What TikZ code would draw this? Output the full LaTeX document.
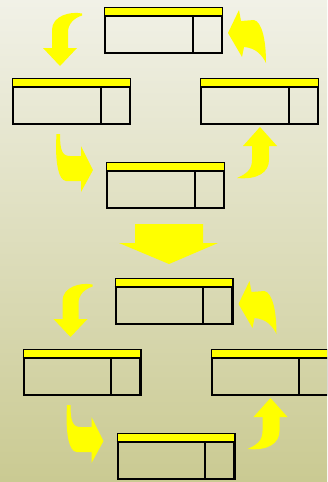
\documentclass[tikz,border=0pt]{standalone}
\usetikzlibrary{calc}
\definecolor{bgtop}{RGB}{241,241,231}
\definecolor{bgbot}{RGB}{202,202,146}
\definecolor{arryel}{RGB}{255,255,0}
\tikzset{
  rec/.style={draw=black, line width=2.4pt, inner sep=0pt, minimum width=116.6pt, minimum height=44.6pt},
  hdr/.style={fill=arryel},
  ln/.style={draw=black, line width=2.2pt},
  arr/.style={fill=arryel, draw=none}
}
\newcommand\mybox[2]{%
  \node[rec] (#1) at (#2) {};
  \fill[hdr] ([shift={(1.2,1.2)}]#1.north west) rectangle ([shift={(-1.2,8.2)}]#1.north east);
  \draw[ln] ([shift={(0,9.3)}]#1.north west) -- ([shift={(0,9.3)}]#1.north east);
  \draw[ln] ([shift={(88.8,9.3)}]#1.north west) -- ([shift={(88.8,-2.5)}]#1.south west);
}
\begin{document}
\begin{tikzpicture}[x=1pt,y=-1pt]
\useasboundingbox (0,0) rectangle (327,482);
\shade[top color=bgtop, bottom color=bgbot] (0,0) rectangle (327,482);
\begin{scope}
\clip (0,0) rectangle (327,482);
\foreach \g/\dx/\dy in {1/0/0, 2/10.5/271} {
  \begin{scope}[shift={(\dx,\dy)}]
    \mybox{t\g}{163.5,30.5}
    \mybox{l\g}{71.5,101.5}
    \mybox{r\g}{259.5,101.5}
    \mybox{m\g}{165.5,185.5}
    % top-left curved arrow (down)
    \fill[arr] (82,13.5) .. controls (70,11) and (52,16) .. (52,30) -- (52,48) -- (43,48) -- (60,66) -- (77,48) -- (68,48) -- (68,32) .. controls (68,24) and (74,18) .. (82,15.5) -- cycle;
    % top-right curved arrow (left)
    \fill[arr] (228,33) -- (239,10) -- (241,21) -- (254,20) .. controls (262,22) and (266,40) .. (266,63) .. controls (262,55) and (256,48) .. (244,47) -- (242,57) -- cycle;
    % bottom-left curved arrow (right)
    \fill[arr] (56.5,134) -- (60,134) .. controls (60,150) and (62,156) .. (70,156) -- (81,156) -- (81,146) -- (93,170) -- (81,192) -- (81,181) -- (66,181) .. controls (58,180) and (56,162) .. (56,145) -- cycle;
    % bottom-right curved arrow (up)
    \fill[arr] (260,127) -- (277,146) -- (269,146) -- (269,160) .. controls (269,172) and (258,180) .. (237,178) .. controls (246,174) and (252,170) .. (252,160) -- (252,146) -- (243,146) -- cycle;
  \end{scope}
}
% big down arrow between groups
\fill[arr] (135,224) -- (203,224) -- (203,243) -- (218,243) -- (169,264) -- (119,243) -- (135,243) -- cycle;
\end{scope}
\end{tikzpicture}
\end{document}
